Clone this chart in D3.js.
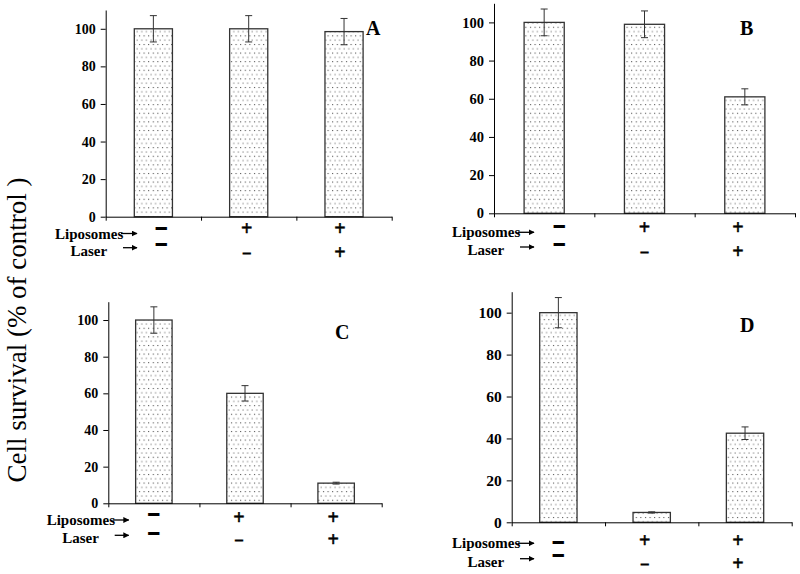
<!DOCTYPE html>
<html><head><meta charset="utf-8">
<script src="https://cdn.jsdelivr.net/npm/d3@7"></script>
<style>body{margin:0;background:#fff}svg{display:block}</style>
</head><body>
<svg id="c" width="800" height="574"></svg>
<script>
// ---- data ----
const categories = ["ctrl", "lipo", "lipo+laser"];
const liposomeSigns = ["\u2014", "+", "+"];
const laserSigns = ["\u2014", "\u2014", "+"];
const panelLetters = ["A", "B", "C", "D"];
const valuesA = [100, 100, 98.5];
const errorsA = [7, 7, 7];
const valuesB = [100, 99, 61];
const errorsB = [7, 7, 4.2];
const valuesC = [100, 60, 11];
const errorsC = [7.2, 4.2, 0.5];
const valuesD = [100, 4.7, 42.5];
const errorsD = [7.2, 0.3, 3];
const yTicks = [0, 20, 40, 60, 80, 100];
const yMax = 110;
const yTitle = "Cell survival (% of control )";
const rowLabels = ["Liposomes", "Laser"];

const values = [valuesA, valuesB, valuesC, valuesD];
const errors = [errorsA, errorsB, errorsC, errorsD];

// ---- layout (positions only) ----
const layout = [
  {x0:105.7, x1:391.7, yT:10,    y0:216.7, fs:14,   lx:55,    lb:238.5, sb:255.7, let:[366,35],  dx:[8,-2,-4], r:[11.6,27.6,13.3,36.7]},
  {x0:494,   x1:795,   yT:3.3,   y0:213.3, fs:14.5, lx:452,   lb:237.3, sb:255,   let:[740,35],  dx:[15,0,-7], r:[12.4,30.7,15.7,39.5]},
  {x0:108.3, x1:381.7, yT:301.7, y0:503.3, fs:14,   lx:46.7,  lb:525,   sb:543.3, let:[335,339], dx:[0,-6,-3], r:[10.7,29.4,15,37.4]},
  {x0:511.7, x1:791.7, yT:291.7, y0:522.3, fs:15.5, lx:452,   lb:548.3, sb:566.7, let:[740,332], dx:[0,-7,-7], r:[20,32.7,19.4,41.8]}
];

const svg = d3.select("#c");
const serif = "Liberation Serif, Times New Roman, serif";

const defs = svg.append("defs");
const pat = defs.append("pattern").attr("id","dots").attr("patternUnits","userSpaceOnUse")
  .attr("width",4.6).attr("height",8.6);
pat.append("rect").attr("width",4.6).attr("height",8.6).attr("fill","#fff");
pat.append("rect").attr("x",1).attr("y",1).attr("width",1).attr("height",1).attr("fill","#333");
pat.append("rect").attr("x",3.3).attr("y",5.3).attr("width",1).attr("height",1).attr("fill","#555");

const mk = defs.append("marker").attr("id","arr").attr("viewBox","0 0 10 10")
  .attr("refX",9).attr("refY",5).attr("markerWidth",6).attr("markerHeight",6)
  .attr("markerUnits","userSpaceOnUse").attr("orient","auto");
mk.append("path").attr("d","M0,0L10,5L0,10z").attr("fill","#000");

layout.forEach((L, p) => {
  const g = svg.append("g");
  const x = d3.scaleBand().domain(categories).range([L.x0, L.x1]).paddingInner(0.6).paddingOuter(0.3);
  const y = d3.scaleLinear().domain([0, yMax]).range([L.y0, L.yT]);
  const xb = d3.scaleLinear().domain([0, 3]).range([L.x0, L.x1]);
  const data = categories.map((c,i)=>({c, v: values[p][i], e: errors[p][i], i}));

  // bars
  g.selectAll("rect.bar").data(data).join("rect").attr("class","bar")
    .attr("x", d=>x(d.c)).attr("width", x.bandwidth())
    .attr("y", d=>y(d.v)).attr("height", d=>y(0)-y(d.v))
    .attr("fill","url(#dots)").attr("stroke","#333").attr("stroke-width",1.3);

  // error bars
  const eg = g.selectAll("g.err").data(data).join("g").attr("class","err")
    .attr("stroke","#333").attr("stroke-width",1);
  eg.append("line").attr("x1",d=>x(d.c)+x.bandwidth()/2).attr("x2",d=>x(d.c)+x.bandwidth()/2)
    .attr("y1",d=>y(d.v+d.e)).attr("y2",d=>y(d.v-d.e));
  [1,-1].forEach(s=>{
    eg.append("line").attr("x1",d=>x(d.c)+x.bandwidth()/2-3.5).attr("x2",d=>x(d.c)+x.bandwidth()/2+3.5)
      .attr("y1",d=>y(d.v+s*d.e)).attr("y2",d=>y(d.v+s*d.e));
  });

  // y axis
  const ya = g.append("g").attr("transform",`translate(${L.x0},0)`)
    .call(d3.axisLeft(y).tickValues(yTicks).tickSize(5).tickSizeOuter(0).tickPadding(5));
  ya.attr("font-family",serif);
  ya.selectAll("text").attr("font-family",serif).attr("font-weight","bold").attr("font-size",L.fs).attr("fill","#000");
  ya.selectAll("path,line").attr("stroke","#000");

  // x axis (boundary ticks)
  const xa = g.append("g").attr("transform",`translate(0,${L.y0})`)
    .call(d3.axisBottom(xb).tickValues([0,1,2,3]).tickFormat("").tickSize(4).tickSizeOuter(0));
  xa.selectAll("path,line").attr("stroke","#000");

  // panel letter
  g.append("text").attr("x",L.let[0]).attr("y",L.let[1]).text(panelLetters[p])
    .attr("font-family",serif).attr("font-weight","bold").attr("font-size",20).attr("fill","#000");

  // row labels
  g.append("text").attr("x",L.lx).attr("y",L.lb).text(rowLabels[0])
    .attr("font-family",serif).attr("font-weight","bold").attr("font-size",15).attr("fill","#000");
  g.append("text").attr("x",L.lx+15.5).attr("y",L.sb).text(rowLabels[1])
    .attr("font-family",serif).attr("font-weight","bold").attr("font-size",15).attr("fill","#000");
  g.append("line").attr("x1",L.lx+66).attr("x2",L.lx+82).attr("y1",L.lb-5).attr("y2",L.lb-5)
    .attr("stroke","#000").attr("stroke-width",1.3).attr("marker-end","url(#arr)");
  g.append("line").attr("x1",L.lx+68).attr("x2",L.lx+82).attr("y1",L.sb-8).attr("y2",L.sb-8)
    .attr("stroke","#000").attr("stroke-width",1.3).attr("marker-end","url(#arr)");

  // signs
  const signAttrs = (sel, ch, col) => {
    const isPlus = ch === "+";
    const fsz = isPlus ? 20 : (col === 0 ? 9 : 6.5);
    sel.attr("font-family",serif).attr("font-weight","bold").attr("font-size",fsz)
      .attr("text-anchor","middle").attr("fill","#000")
      .attr("stroke","#000").attr("stroke-width", isPlus ? 0.5 : (col === 0 ? 2.2 : 1.8))
      .attr("stroke-linejoin","miter");
    return isPlus ? 0.27*fsz : 0.24*fsz;
  };
  data.forEach((d,i)=>{
    const cx = x(d.c) + x.bandwidth()/2 + L.dx[i];
    const c1 = i===0 ? L.r[0] : L.r[2];
    const c2 = i===0 ? L.r[1] : L.r[3];
    const t1 = g.append("text").text(liposomeSigns[i]);
    const o1 = signAttrs(t1, liposomeSigns[i], i);
    t1.attr("x",cx).attr("y",L.y0 + c1 + o1);
    const t2 = g.append("text").text(laserSigns[i]);
    const o2 = signAttrs(t2, laserSigns[i], i);
    t2.attr("x",cx).attr("y",L.y0 + c2 + o2);
  });
});

// y title
svg.append("text").attr("transform","translate(26,330) rotate(-90)")
  .attr("text-anchor","middle").attr("font-family",serif).attr("font-size",28).attr("fill","#000")
  .attr("textLength",305).attr("lengthAdjust","spacingAndGlyphs")
  .text(yTitle);
</script>
</body></html>
